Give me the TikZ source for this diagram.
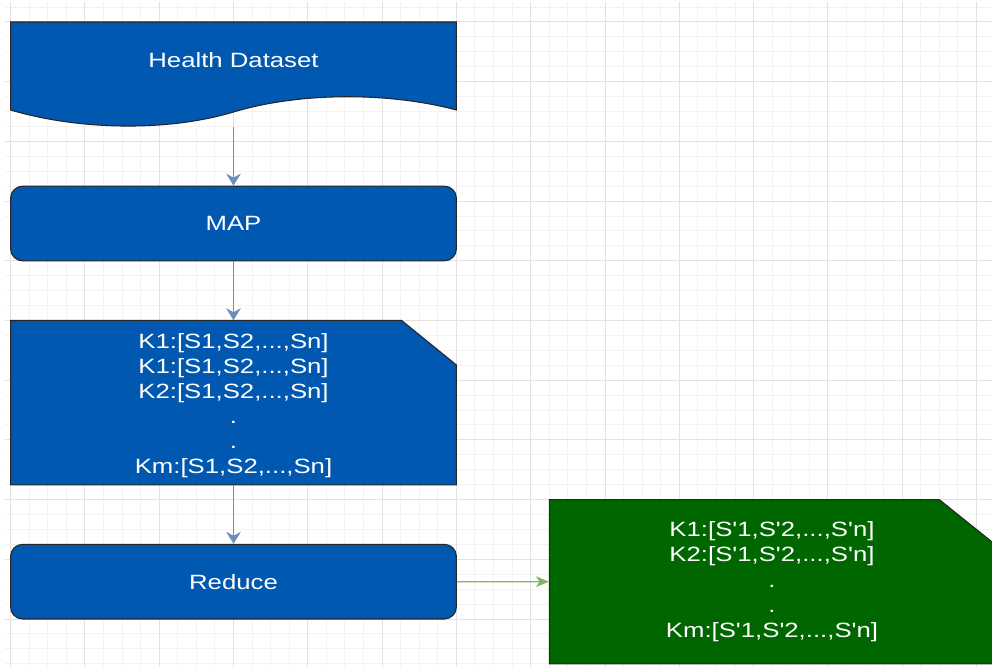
\documentclass[tikz,border=0pt]{standalone}
\usepackage{fontspec}
\newfontfamily\boxfont[FakeStretch=1.245]{Liberation Sans}
\usetikzlibrary{arrows.meta}

\definecolor{mapblue}{RGB}{0,88,176}
\definecolor{outgreen}{RGB}{0,102,0}
\definecolor{linkblue}{HTML}{6C8EBF}
\definecolor{linkgreen}{HTML}{82B366}
\definecolor{gridmajor}{RGB}{226,226,226}
\definecolor{gridminor}{RGB}{243,243,243}

\tikzset{
	box/.style={rectangle, minimum width=334.35pt, inner sep=0pt, text=white,
		font=\boxfont\fontsize{15.5}{18.8}\selectfont, align=center},
	procbox/.style={box, fill=mapblue, draw=black!85, line width=0.8pt,
		rounded corners=9pt, minimum height=56pt},
	outline/.style={draw=black!85, line width=0.8pt},
	flow/.style={linkblue, line width=1pt, -{Stealth[length=9pt,width=11pt,inset=3pt]}},
	flowout/.style={linkgreen, line width=1pt, -{Stealth[length=9.5pt,width=8pt,inset=2.5pt]}}
}

\begin{document}
\begin{tikzpicture}[x=0.75pt, y=-0.75pt]
		\useasboundingbox (0,0) rectangle (992,667);
		\fill [white] (0,0) rectangle (992,667);
		% background grid, four small cells to a big one
		\foreach \k in {0,...,52}
			\draw [gridminor, line width=0.75pt] ({10.6+18.575*\k},2) -- ++(0,665);
		\foreach \k in {-1,...,43}
			\draw [gridminor, line width=0.75pt] (5,{22+14.925*\k}) -- ++(987,0);
		\foreach \k in {0,4,...,52}
			\draw [gridmajor, line width=0.75pt] ({10.6+18.575*\k},2) -- ++(0,665);
		\foreach \k in {0,4,...,40}
			\draw [gridmajor, line width=0.75pt] (5,{22+14.925*\k}) -- ++(987,0);

		% input document with wavy bottom
		\filldraw [outline, fill=mapblue] (10.6,22) -- (456.4,22) -- (456.4,110)
			.. controls (389,92) and (300,92) .. (233.5,112)
			.. controls (167,132) and (78,130) .. (10.6,110) -- cycle;
		\node [box, minimum height=78.3pt] (data) at (233.5,74.2) {};
		\node [box] (datatext) at (233.5,60) {Health Dataset};

		\node [procbox] (map) at (233.5,223.5) {MAP};

		% key/value cards
		\filldraw [outline, fill=mapblue] (10.6,320.5) -- (401.7,320.5) -- (456.4,365)
			-- (456.4,484.8) -- (10.6,484.8) -- cycle;
		\node [box, minimum height=123.2pt] (pairs) at (233.5,402.6) {};
		\node [box] (pairstext) at (233.5,405.5)
			{K1:[S1,S2,...,Sn]\\K1:[S1,S2,...,Sn]\\K2:[S1,S2,...,Sn]\\.\\.\\Km:[S1,S2,...,Sn]};

		\node [procbox] (reduce) at (233.5,581.65) {Reduce};

		\filldraw [outline, fill=outgreen] (549.3,499.6) -- (939.3,499.6) -- (994.6,544)
			-- (994.6,663.8) -- (549.3,663.8) -- cycle;
		\node [box, minimum height=123.2pt] (result) at (771.95,581.7)
			{K1:[S'1,S'2,...,S'n]\\K2:[S'1,S'2,...,S'n]\\.\\.\\Km:[S'1,S'2,...,S'n]};

		\draw [flow] (data) -- (map);
		\draw [flow] (map) -- (pairs);
		\draw [flow] (pairs) -- (reduce);
		\draw [flowout] (reduce) -- (result);
	\end{tikzpicture}
\end{document}
